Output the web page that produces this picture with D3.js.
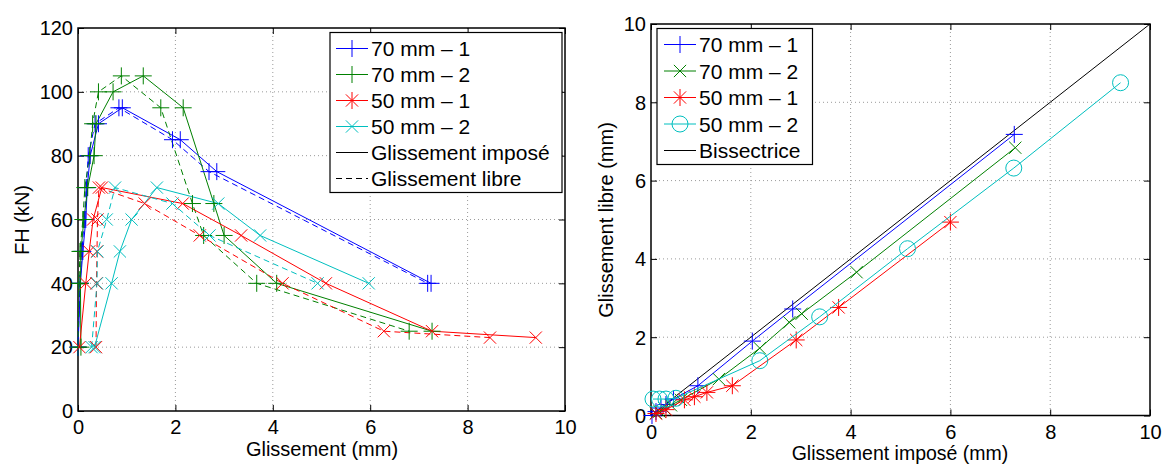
<!DOCTYPE html>
<html><head><meta charset="utf-8">
<script src="https://cdn.jsdelivr.net/npm/d3@7"></script>
<style>body{margin:0;background:#fff}svg{display:block;font-family:"Liberation Sans",Arial,Helvetica,sans-serif}</style>
</head><body><svg id="c" width="1163" height="464"></svg>
<script>
// ---------- DATA ----------
const seriesNames = ["70 mm \u2013 1", "70 mm \u2013 2", "50 mm \u2013 1", "50 mm \u2013 2"];
const seriesColors = ["#0000ff", "#008000", "#ff0000", "#00bfbf"];
const seriesMarkers = ["plus", "plus", "x", "x"];
const legendMarkersLeft = ["plus", "plus", "star", "x"];
const rightMarkers = ["plus", "x", "star", "circle"];
const styleNames = ["Glissement impos\u00e9", "Glissement libre"];

const xTicksLeft = [0, 2, 4, 6, 8, 10];
const yTicksLeft = [0, 20, 40, 60, 80, 100, 120];
const xTicksRight = [0, 2, 4, 6, 8, 10];
const yTicksRight = [0, 2, 4, 6, 8, 10];

// Left chart: FH vs slip (imposed = solid, free = dashed)
const fh70_1 = [20, 40, 50, 60, 70, 80, 90, 95, 85, 75, 40];
const imp70_1 = [0.0, 0.05, 0.1, 0.16, 0.19, 0.25, 0.42, 0.91, 2.1, 2.85, 7.25];
const lib70_1 = [0.0, 0.04, 0.08, 0.13, 0.17, 0.21, 0.35, 0.84, 1.94, 2.69, 7.18];

const fh70_2 = [20, 40, 50, 60, 70, 80, 90, 100, 105, 95, 65, 55, 40, 25];
const imp70_2 = [0.06, 0.05, 0.06, 0.12, 0.2, 0.33, 0.37, 0.72, 1.34, 2.16, 2.79, 3.0, 4.08, 7.27];
const lib70_2 = [0.0, 0.02, 0.04, 0.1, 0.14, 0.24, 0.3, 0.42, 0.89, 1.7, 2.35, 2.58, 3.67, 6.8];

const fh50_1 = [20, 40, 50, 60, 70, 65, 55, 40, 25, 23];
const imp50_1 = [0.03, 0.16, 0.23, 0.31, 0.49, 2.15, 3.35, 5.09, 7.27, 9.4];
const lib50_1 = [0.37, 0.38, 0.39, 0.4, 0.43, 1.37, 2.5, 4.2, 6.28, 8.46];

const fh50_2 = [20, 40, 50, 60, 70, 65, 55, 40];
const imp50_2 = [0.34, 0.69, 0.86, 1.1, 1.62, 2.88, 3.74, 5.97];
const lib50_2 = [0.28, 0.39, 0.4, 0.59, 0.76, 1.94, 2.7, 4.92];

// Right chart: free slip vs imposed slip
const rImp70_1 = [0.02, 0.1, 0.2, 0.3, 0.45, 0.94, 2.03, 2.84, 7.28];
const rLib70_1 = [0.0, 0.1, 0.19, 0.28, 0.42, 0.76, 1.9, 2.72, 7.18];
const rImp70_2 = [0.1, 0.17, 0.27, 0.4, 0.6, 1.36, 2.18, 2.77, 3.02, 4.12, 7.3];
const rLib70_2 = [0.06, 0.1, 0.18, 0.26, 0.4, 0.93, 1.72, 2.38, 2.6, 3.66, 6.84];
const rImp50_1 = [0.1, 0.3, 0.67, 0.87, 1.12, 1.63, 2.91, 3.76, 6.0];
const rLib50_1 = [0.05, 0.15, 0.4, 0.48, 0.59, 0.76, 1.93, 2.76, 4.94];
const rImp50_2 = [0.04, 0.17, 0.3, 0.5, 2.18, 3.38, 5.14, 7.27, 9.41];
const rLib50_2 = [0.42, 0.42, 0.42, 0.44, 1.4, 2.52, 4.26, 6.32, 8.5];
const bisX = [0, 10];
const bisY = [0, 10];

// ---------- BUILD ----------
const zip = (xs, ys) => xs.map((x, i) => [x, ys[i]]);
const leftSeries = [
  {imp: zip(imp70_1, fh70_1), lib: zip(lib70_1, fh70_1)},
  {imp: zip(imp70_2, fh70_2), lib: zip(lib70_2, fh70_2)},
  {imp: zip(imp50_1, fh50_1), lib: zip(lib50_1, fh50_1)},
  {imp: zip(imp50_2, fh50_2), lib: zip(lib50_2, fh50_2)}
];
const rightSeries = [zip(rImp70_1, rLib70_1), zip(rImp70_2, rLib70_2), zip(rImp50_1, rLib50_1), zip(rImp50_2, rLib50_2)];

const svg = d3.select("#c");
const FONT = 20;
const LFONT = 21;

function markerPath(type, s) {
  const d = d3.path();
  const a = s * 0.72;
  if (type === "plus" || type === "star") {
    d.moveTo(-s, 0); d.lineTo(s, 0); d.moveTo(0, -s); d.lineTo(0, s);
  }
  if (type === "x" || type === "star") {
    d.moveTo(-a, -a); d.lineTo(a, a); d.moveTo(-a, a); d.lineTo(a, -a);
  }
  return d.toString();
}

function drawMarker(g, type, x, y, color) {
  if (type === "circle") {
    g.append("circle").attr("cx", x).attr("cy", y).attr("r", 8)
      .attr("fill", "none").attr("stroke", color).attr("stroke-width", 1);
  } else {
    g.append("path").attr("transform", `translate(${x},${y})`)
      .attr("d", markerPath(type, 8.5))
      .attr("fill", "none").attr("stroke", color).attr("stroke-width", 1);
  }
}

function makeAxes(box, xDom, yDom, xTicks, yTicks) {
  const x = d3.scaleLinear().domain(xDom).range([box.l, box.r]);
  const y = d3.scaleLinear().domain(yDom).range([box.b, box.t]);
  const g = svg.append("g");
  const grid = g.append("g").attr("stroke", "#9a9a9a").attr("stroke-width", 1).attr("stroke-dasharray", "1,3");
  xTicks.slice(1, -1).forEach(v => grid.append("line").attr("x1", x(v)).attr("x2", x(v)).attr("y1", box.t).attr("y2", box.b));
  yTicks.slice(1, -1).forEach(v => grid.append("line").attr("y1", y(v)).attr("y2", y(v)).attr("x1", box.l).attr("x2", box.r));
  const tl = 6;
  const ax = g.append("g").attr("transform", `translate(0,${box.b})`)
    .call(d3.axisBottom(x).tickValues(xTicks).tickSize(-tl).tickPadding(9).tickFormat(d3.format("d")));
  const axTop = g.append("g").attr("transform", `translate(0,${box.t})`)
    .call(d3.axisTop(x).tickValues(xTicks).tickSize(-tl).tickFormat(""));
  const ay = g.append("g").attr("transform", `translate(${box.l},0)`)
    .call(d3.axisLeft(y).tickValues(yTicks).tickSize(-tl).tickPadding(5).tickFormat(d3.format("d")));
  const ayR = g.append("g").attr("transform", `translate(${box.r},0)`)
    .call(d3.axisRight(y).tickValues(yTicks).tickSize(-tl).tickFormat(""));
  [ax, axTop, ay, ayR].forEach(a => {
    a.select(".domain").remove();
    a.selectAll(".tick line").attr("stroke", "#000").attr("stroke-width", 1);
    a.selectAll("text").attr("font-size", FONT).attr("fill", "#000").attr("font-family", "Liberation Sans, Arial, sans-serif");
  });
  ay.selectAll("text").attr("dy", "0.34em");
  g.append("rect").attr("x", box.l).attr("y", box.t).attr("width", box.r - box.l).attr("height", box.b - box.t)
    .attr("fill", "none").attr("stroke", "#000").attr("stroke-width", 1.5);
  return {x, y, g};
}

// ---------- LEFT ----------
const LB = {l: 78, r: 565, t: 28, b: 411};
const L = makeAxes(LB, [0, 10], [0, 120], xTicksLeft, yTicksLeft);
const lineL = d3.line().x(d => L.x(d[0])).y(d => L.y(d[1]));
const dl = svg.append("g");
leftSeries.forEach((s, i) => {
  dl.append("path").attr("d", lineL(s.lib)).attr("fill", "none").attr("stroke", seriesColors[i]).attr("stroke-width", 1).attr("stroke-dasharray", "6,4");
  dl.append("path").attr("d", lineL(s.imp)).attr("fill", "none").attr("stroke", seriesColors[i]).attr("stroke-width", 1);
});
leftSeries.forEach((s, i) => {
  s.lib.forEach(p => drawMarker(dl, seriesMarkers[i], L.x(p[0]), L.y(p[1]), seriesColors[i]));
  s.imp.forEach(p => drawMarker(dl, seriesMarkers[i], L.x(p[0]), L.y(p[1]), seriesColors[i]));
});
svg.append("text").attr("x", 322).attr("y", 456).attr("text-anchor", "middle").attr("font-size", FONT).text("Glissement (mm)");
svg.append("text").attr("transform", "translate(29,220) rotate(-90)").attr("text-anchor", "middle").attr("font-size", FONT).text("FH (kN)");

// left legend
const lg = svg.append("g");
lg.append("rect").attr("x", 330).attr("y", 32.5).attr("width", 232).attr("height", 160).attr("fill", "#fff").attr("stroke", "#000").attr("stroke-width", 1.2);
const lrows = [48.5, 74.5, 100.5, 126.5, 152.5, 178.5];
seriesNames.forEach((n, i) => {
  lg.append("line").attr("x1", 336).attr("x2", 368).attr("y1", lrows[i]).attr("y2", lrows[i]).attr("stroke", seriesColors[i]);
  drawMarker(lg, legendMarkersLeft[i], 352, lrows[i], seriesColors[i]);
  lg.append("text").attr("x", 371).attr("y", lrows[i] + 7.5).attr("font-size", LFONT).text(n);
});
styleNames.forEach((n, j) => {
  const yy = lrows[4 + j];
  lg.append("line").attr("x1", 336).attr("x2", 368).attr("y1", yy).attr("y2", yy).attr("stroke", "#000")
    .attr("stroke-dasharray", j ? "6,4" : null);
  lg.append("text").attr("x", 371).attr("y", yy + 7.5).attr("font-size", LFONT).text(n);
});

// ---------- RIGHT ----------
const RB = {l: 651, r: 1150, t: 24, b: 415.5};
const R = makeAxes(RB, [0, 10], [0, 10], xTicksRight, yTicksRight);
const lineR = d3.line().x(d => R.x(d[0])).y(d => R.y(d[1]));
const dr = svg.append("g");
dr.append("path").attr("d", lineR(zip(bisX, bisY))).attr("fill", "none").attr("stroke", "#000").attr("stroke-width", 1);
rightSeries.forEach((s, i) => {
  dr.append("path").attr("d", lineR(s)).attr("fill", "none").attr("stroke", seriesColors[i]).attr("stroke-width", 1);
  s.forEach(p => drawMarker(dr, rightMarkers[i], R.x(p[0]), R.y(p[1]), seriesColors[i]));
});
svg.append("text").attr("x", 900).attr("y", 459.5).attr("text-anchor", "middle").attr("font-size", 19.5).text("Glissement impos\u00e9 (mm)");
svg.append("text").attr("transform", "translate(613,220) rotate(-90)").attr("text-anchor", "middle").attr("font-size", FONT).text("Glissement libre (mm)");

const rg = svg.append("g");
rg.append("rect").attr("x", 657).attr("y", 28.5).attr("width", 155.5).attr("height", 136).attr("fill", "#fff").attr("stroke", "#000").attr("stroke-width", 1.2);
const rrows = [44.5, 71, 97.5, 124, 150.5];
seriesNames.forEach((n, i) => {
  rg.append("line").attr("x1", 664).attr("x2", 696).attr("y1", rrows[i]).attr("y2", rrows[i]).attr("stroke", seriesColors[i]);
  drawMarker(rg, rightMarkers[i], 680, rrows[i], seriesColors[i]);
  rg.append("text").attr("x", 699).attr("y", rrows[i] + 7.5).attr("font-size", LFONT).text(n);
});
rg.append("line").attr("x1", 664).attr("x2", 696).attr("y1", rrows[4]).attr("y2", rrows[4]).attr("stroke", "#000");
rg.append("text").attr("x", 699).attr("y", rrows[4] + 7.5).attr("font-size", LFONT).text("Bissectrice");
</script></body></html>
